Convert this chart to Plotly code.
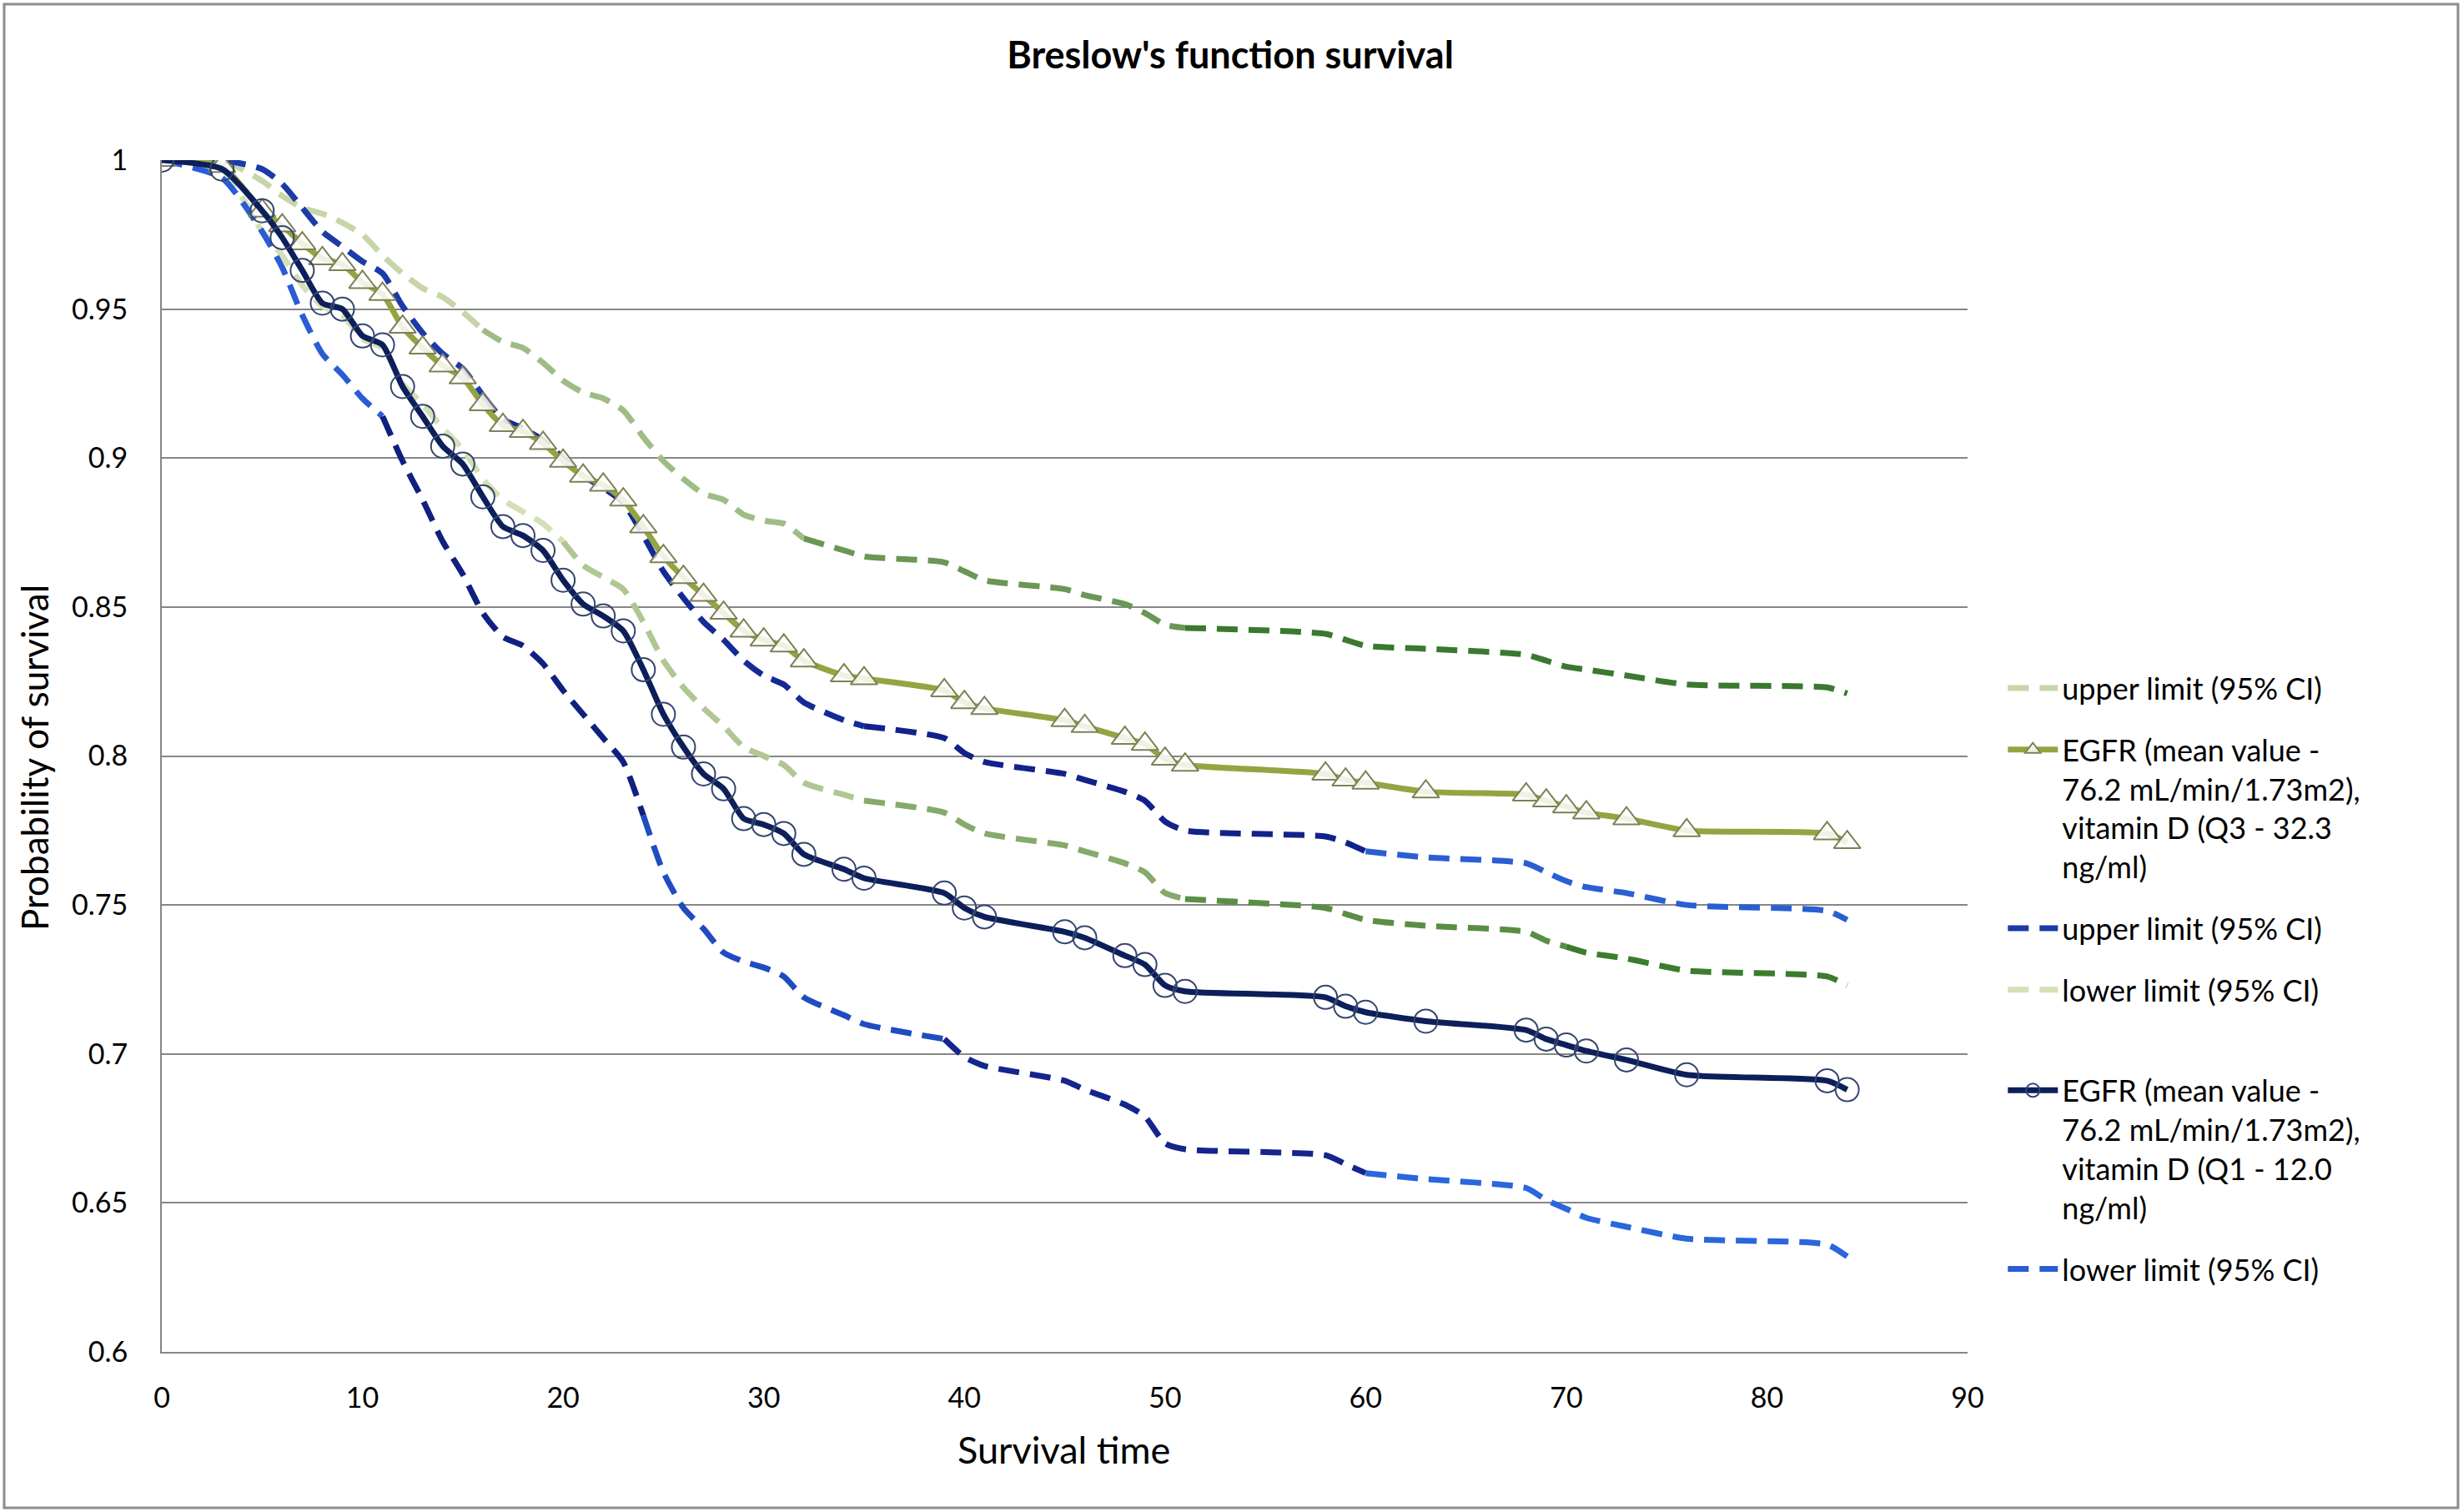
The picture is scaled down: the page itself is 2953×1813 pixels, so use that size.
import plotly.graph_objects as go

# ---------------- data ----------------
times = [0, 3, 5, 6, 7, 8, 9, 10, 11, 12, 13, 14, 15, 16, 17, 18, 19, 20, 21, 22, 23, 24,
         25, 26, 27, 28, 29, 30, 31, 32, 34, 35, 39, 40, 41, 45, 46, 48, 49, 50, 51,
         58, 59, 60, 63, 68, 69, 70, 71, 73, 76, 83, 84]

q3_surv = [1.000, 0.998, 0.983, 0.978, 0.972, 0.967, 0.965, 0.959, 0.955, 0.944, 0.937, 0.931,
           0.927, 0.918, 0.911, 0.909, 0.905, 0.899, 0.894, 0.891, 0.886, 0.877, 0.867, 0.860,
           0.854, 0.848, 0.842, 0.839, 0.837, 0.832, 0.827, 0.826, 0.822, 0.818, 0.816, 0.812,
           0.810, 0.806, 0.804, 0.799, 0.797, 0.794, 0.792, 0.791, 0.788, 0.787, 0.785, 0.783,
           0.781, 0.779, 0.775, 0.774, 0.771]

q3_upper = [1.000, 1.000, 0.993, 0.988, 0.984, 0.982, 0.979, 0.975, 0.968, 0.962, 0.957, 0.954,
            0.949, 0.943, 0.939, 0.937, 0.932, 0.926, 0.922, 0.920, 0.916, 0.907, 0.899, 0.893,
            0.888, 0.886, 0.881, 0.879, 0.878, 0.873, 0.869, 0.867, 0.865, 0.862, 0.859, 0.856,
            0.854, 0.851, 0.848, 0.844, 0.843, 0.841, 0.839, 0.837, 0.836, 0.834, 0.832, 0.830,
            0.829, 0.827, 0.824, 0.823, 0.821]

q3_lower = [1.000, 0.997, 0.976, 0.968, 0.958, 0.951, 0.948, 0.940, 0.937, 0.925, 0.918, 0.910,
            0.903, 0.893, 0.886, 0.882, 0.878, 0.872, 0.864, 0.860, 0.856, 0.845, 0.832, 0.823,
            0.816, 0.810, 0.803, 0.800, 0.797, 0.791, 0.787, 0.785, 0.781, 0.777, 0.774, 0.770,
            0.768, 0.764, 0.761, 0.754, 0.752, 0.749, 0.747, 0.745, 0.743, 0.741, 0.738, 0.736,
            0.734, 0.732, 0.728, 0.726, 0.723]

q1_surv = [1.000, 0.997, 0.983, 0.974, 0.963, 0.952, 0.950, 0.941, 0.938, 0.924, 0.914, 0.904,
           0.898, 0.887, 0.877, 0.874, 0.869, 0.859, 0.851, 0.847, 0.842, 0.829, 0.814, 0.803,
           0.794, 0.789, 0.779, 0.777, 0.774, 0.767, 0.762, 0.759, 0.754, 0.749, 0.746, 0.741,
           0.739, 0.733, 0.730, 0.723, 0.721, 0.719, 0.716, 0.714, 0.711, 0.708, 0.705, 0.703,
           0.701, 0.698, 0.693, 0.691, 0.688]

q1_upper = [1.000, 1.000, 0.997, 0.992, 0.984, 0.976, 0.971, 0.966, 0.962, 0.951, 0.942, 0.935,
            0.930, 0.921, 0.913, 0.910, 0.906, 0.900, 0.894, 0.890, 0.885, 0.874, 0.862, 0.853,
            0.845, 0.839, 0.832, 0.827, 0.824, 0.818, 0.812, 0.810, 0.806, 0.801, 0.798, 0.794,
            0.792, 0.788, 0.785, 0.778, 0.775, 0.773, 0.771, 0.768, 0.766, 0.764, 0.761, 0.758,
            0.756, 0.754, 0.750, 0.748, 0.745]

q1_lower = [1.000, 0.994, 0.976, 0.964, 0.948, 0.935, 0.928, 0.920, 0.914, 0.899, 0.886, 0.872,
            0.861, 0.848, 0.840, 0.837, 0.831, 0.822, 0.814, 0.806, 0.798, 0.780, 0.761, 0.749,
            0.742, 0.734, 0.731, 0.729, 0.726, 0.719, 0.713, 0.710, 0.705, 0.699, 0.696, 0.691,
            0.688, 0.683, 0.679, 0.670, 0.668, 0.666, 0.663, 0.660, 0.658, 0.655, 0.651, 0.648,
            0.645, 0.642, 0.638, 0.636, 0.632]

x_ticks = [0, 10, 20, 30, 40, 50, 60, 70, 80, 90]
y_ticks = [0.6, 0.65, 0.7, 0.75, 0.8, 0.85, 0.9, 0.95, 1.0]
y_tick_labels = ["0.6", "0.65", "0.7", "0.75", "0.8", "0.85", "0.9", "0.95", "1"]

title_text = "Breslow's function survival"
x_title = "Survival time"
y_title = "Probability of survival"
ci_upper_name = "upper limit (95% CI)"
ci_lower_name = "lower limit (95% CI)"
q3_name = "EGFR (mean value -<br>76.2 mL/min/1.73m2),<br>vitamin D (Q3 - 32.3<br>ng/ml)"
q1_name = "EGFR (mean value -<br>76.2 mL/min/1.73m2),<br>vitamin D (Q1 - 12.0<br>ng/ml)"

# ---------------- styling ----------------
FONT = "Lato, 'Open Sans', sans-serif"
DASH = "25px,13px"
DW = 7

fig = go.Figure()


def add_dashed(y, stops, name, rank):
    """Draw a dashed series split into colour segments (approximates the gradient)."""
    start = 0
    first = True
    for t_end, color in stops:
        end = times.index(t_end)
        fig.add_trace(go.Scatter(
            x=times[start:end + 1], y=y[start:end + 1], mode="lines",
            line=dict(color=color, width=DW, dash=DASH, shape="spline", smoothing=0.6),
            name=name, legendgroup="g" + str(rank), showlegend=first, legendrank=rank,
            hoverinfo="skip"))
        first = False
        start = end


add_dashed(q3_upper, [(16, "#c6d6a8"), (32, "#9fbc86"), (51, "#6a9755"), (84, "#3b7830")],
           ci_upper_name, 1)
# extra blank line after this legend label reproduces the larger gap in the original legend
add_dashed(q3_lower, [(20, "#d3e0b6"), (35, "#b0c794"), (51, "#86a96c"), (70, "#5b8e45"), (84, "#3c7c2e")],
           ci_lower_name + "<br> ", 4)
add_dashed(q1_upper, [(16, "#1c3aa8"), (35, "#142a96"), (60, "#12228a"), (84, "#2a5fd2")],
           ci_upper_name, 3)
add_dashed(q1_lower, [(11, "#2a5cd4"), (24, "#10207e"), (39, "#1f4cc0"), (60, "#14258c"), (84, "#2a66dc")],
           ci_lower_name, 6)

fig.add_trace(go.Scatter(
    x=times, y=q3_surv, mode="lines+markers", name=q3_name, legendrank=2,
    legendgroup="g2",
    line=dict(color="#93a541", width=7, shape="spline", smoothing=0.6),
    marker=dict(symbol="triangle-up", size=28, color="rgba(255,255,255,0.85)",
                line=dict(color="#7f8056", width=2))))

fig.add_trace(go.Scatter(
    x=times, y=q1_surv, mode="lines+markers", name=q1_name, legendrank=5,
    legendgroup="g5",
    line=dict(color="#0d1f5a", width=7, shape="spline", smoothing=0.6),
    marker=dict(symbol="circle-open", size=28, color="#33466f",
                line=dict(color="#33466f", width=2))))

W, H = 2953, 1813
L, R, T, B = 194, 594, 192, 192
pw, ph = W - L - R, H - T - B


def px_to_paper_x(px):
    return (px - L) / pw


def px_to_paper_y(py):
    return (H - B - py) / ph


fig.update_layout(
    width=W, height=H, autosize=False,
    margin=dict(l=L, r=R, t=T, b=B),
    paper_bgcolor="white", plot_bgcolor="white",
    font=dict(family=FONT, size=34, color="#000000"),
    title=dict(text="<b>" + title_text + "</b>", x=0.4995, xanchor="center",
               y=1 - 66 / H, yanchor="middle", yref="container",
               font=dict(family=FONT, size=45, color="#000000")),
    showlegend=True,
    legend=dict(x=1.02, y=px_to_paper_y(795), xanchor="left", yanchor="top",
                font=dict(family=FONT, size=36, color="#000000"),
                bgcolor="rgba(0,0,0,0)", valign="top", itemwidth=60,
                tracegroupgap=24),
    xaxis=dict(range=[0, 90], tickvals=x_ticks, ticktext=[str(v) for v in x_ticks],
               showgrid=False, zeroline=False, showline=True, linecolor="#868686",
               linewidth=2, ticks="", ticklabelstandoff=24,
               tickfont=dict(family=FONT, size=34, color="#000000")),
    yaxis=dict(range=[0.6, 1.0], tickvals=y_ticks, ticktext=y_tick_labels,
               showgrid=True, gridcolor="#868686", gridwidth=2, zeroline=False,
               showline=True, linecolor="#868686", linewidth=2, ticks="",
               ticklabelstandoff=32,
               tickfont=dict(family=FONT, size=34, color="#000000")),
    annotations=[
        dict(text=x_title, x=px_to_paper_x(1275), y=px_to_paper_y(1738), xref="paper",
             yref="paper", showarrow=False, xanchor="center", yanchor="middle",
             font=dict(family=FONT, size=45, color="#000000")),
        dict(text=y_title, x=px_to_paper_x(41), y=px_to_paper_y(909), xref="paper",
             yref="paper", showarrow=False, xanchor="center", yanchor="middle",
             textangle=-90, font=dict(family=FONT, size=44, color="#000000")),
    ],
    shapes=[dict(type="rect", xref="paper", yref="paper",
                 x0=px_to_paper_x(5), x1=px_to_paper_x(2947),
                 y0=px_to_paper_y(1808), y1=px_to_paper_y(5),
                 line=dict(color="#8c8c8c", width=3), fillcolor="rgba(0,0,0,0)",
                 layer="below")],
)

fig.write_html("out.html", config={"displayModeBar": False},
               post_script="document.body.style.margin='0px';")
